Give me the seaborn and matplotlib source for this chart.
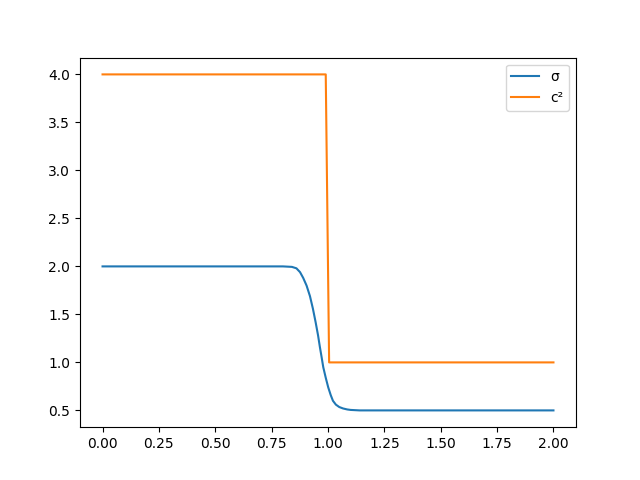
import matplotlib
matplotlib.use("Agg")
import matplotlib.pyplot as plt
import seaborn as sns

# sigma profile
sigma_x = [0.0, 0.80, 0.84, 0.86, 0.876, 0.89, 0.905, 0.92, 0.933, 0.945, 0.956, 0.964,
           0.972, 0.979, 0.99, 1.001, 1.012, 1.022, 1.035, 1.05, 1.067, 1.085, 1.10, 1.14, 2.0]
sigma_y = [2.0, 2.0, 1.995, 1.98, 1.94, 1.88, 1.80, 1.69, 1.56, 1.42, 1.28, 1.16,
           1.05, 0.95, 0.84, 0.74, 0.66, 0.60, 0.56, 0.535, 0.52, 0.51, 0.505, 0.50, 0.50]

# c squared step
c2_x = [0.0, 0.99, 1.005, 2.0]
c2_y = [4.0, 4.0, 1.0, 1.0]

fig, ax = plt.subplots(figsize=(6.4, 4.8), dpi=100)
sns.lineplot(x=sigma_x, y=sigma_y, ax=ax, label="σ", color="#1f77b4")
sns.lineplot(x=c2_x, y=c2_y, ax=ax, label="c²", color="#ff7f0e")
ax.legend(loc="upper right")

fig.savefig("out.png")
